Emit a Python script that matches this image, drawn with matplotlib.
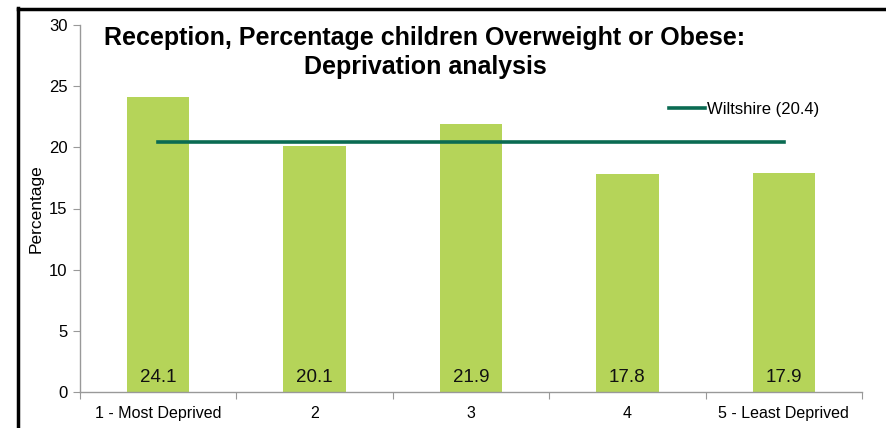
import matplotlib
matplotlib.use("Agg")
import matplotlib.pyplot as plt
from matplotlib.lines import Line2D

plt.rcParams['font.family'] = ['Liberation Sans', 'DejaVu Sans']

categories = ["1 - Most Deprived", "2", "3", "4", "5 - Least Deprived"]
values = [24.1, 20.1, 21.9, 17.8, 17.9]
wiltshire = 20.4
yticks = [0, 5, 10, 15, 20, 25, 30]
title_lines = ["Reception, Percentage children Overweight or Obese:", "Deprivation analysis"]

W, H = 886, 428
fig = plt.figure(figsize=(W / 100, H / 100), dpi=100)
ax = fig.add_axes([80 / W, 1 - 392 / H, (862 - 80) / W, (392 - 25) / H])

x = list(range(len(categories)))
ax.bar(x, values, width=0.4, color="#b5d459", zorder=2)
for xi, v in zip(x, values):
    ax.text(xi, 0.5, f"{v:.1f}", ha="center", va="bottom", fontsize=13.5, color="#111111", zorder=3)

ax.plot([x[0], x[-1]], [wiltshire, wiltshire], color="#0a6b52", lw=2.6, zorder=4)

ax.set_xlim(-0.5, len(categories) - 0.5)
ax.set_ylim(0, 30)
ax.set_yticks(yticks)
ax.set_xticks([i + 0.5 for i in range(-1, len(categories))], minor=False)
ax.set_xticklabels([""] * (len(categories) + 1))
ax.set_xticks(x, minor=True)
ax.set_xticklabels(categories, minor=True)
ax.tick_params(axis="x", which="minor", length=0, labelsize=11.5, pad=10)
ax.tick_params(axis="x", which="major", length=5, color="#999999", direction="out")
ax.tick_params(axis="y", length=5, color="#999999", labelsize=12, pad=4)
for s in ["top", "right"]:
    ax.spines[s].set_visible(False)
for s in ["left", "bottom"]:
    ax.spines[s].set_color("#999999")
    ax.spines[s].set_linewidth(1.0)
ax.set_ylabel("Percentage", fontsize=12.5, labelpad=4)

ax.legend(handles=[Line2D([], [], color="#0a6b52", lw=2.6, label=f"Wiltshire ({wiltshire})")],
          loc="upper left", bbox_to_anchor=((662 - 80) / (862 - 80), 1 - (95 - 25) / (392 - 25)),
          frameon=False, fontsize=12, handlelength=2.2, handletextpad=0.1, borderaxespad=0)

for ty, line in zip([38, 67], title_lines):
    fig.text(425 / W, 1 - ty / H, line, ha="center", va="center", fontsize=18, fontweight="bold")

# outer frame along the top and left edges
fig.add_artist(Line2D([17.5 / W, 17.5 / W], [0, 1 - 8 / H], color="black", lw=2.5, transform=fig.transFigure))
fig.add_artist(Line2D([17.5 / W, 1], [1 - 8.5 / H, 1 - 8.5 / H], color="black", lw=2.5, transform=fig.transFigure))

fig.savefig("out.png", dpi=100)
